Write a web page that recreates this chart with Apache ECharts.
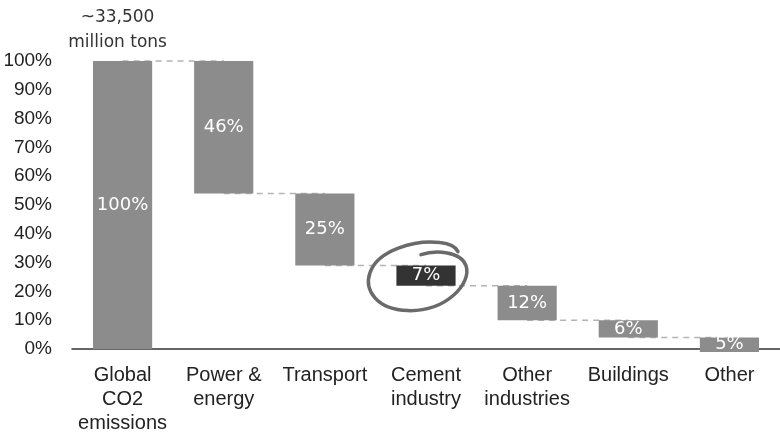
<!DOCTYPE html>
<html>
<head>
<meta charset="utf-8">
<script src="https://cdn.jsdelivr.net/npm/echarts@6/dist/echarts.min.js"></script>
<style>
  html, body { margin: 0; padding: 0; background: #fff; }
  #chart { width: 780px; height: 435px; }
</style>
</head>
<body>
<div id="chart"></div>
<script>
// Share of global CO2 emissions by sector (waterfall)
const categories = ['Global\nCO2\nemissions', 'Power &\nenergy', 'Transport', 'Cement\nindustry', 'Other\nindustries', 'Buildings', 'Other'];
const shares = [100, 46, 25, 7, 12, 6, 5];
const highlighted = 3;               // cement industry
const totalNote = '~33,500\nmillion tons';
const yTicks = [0, 10, 20, 30, 40, 50, 60, 70, 80, 90, 100];

// Build [index, start, end] ranges: first bar is the total, the rest step down from it
const ranges = [];
let level = shares[0];
ranges.push([0, 0, shares[0]]);
for (let i = 1; i < shares.length; i++) {
  ranges.push([i, level - shares[i], level]);
  level -= shares[i];
}
// Dashed connectors sit at the top of the following bar
const connectors = [];
for (let i = 0; i < ranges.length - 1; i++) {
  connectors.push([i, ranges[i + 1][2]]);
}

const chart = echarts.init(document.getElementById('chart'));

function renderBar(params, api) {
  const idx = api.value(0);
  const top = api.coord([idx, api.value(2)]);
  const bottom = api.coord([idx, api.value(1)]);
  const band = api.size([1, 0])[0];
  const w = band * 0.585;
  const x = top[0] - w / 2;
  const y = top[1];
  const h = bottom[1] - top[1];
  const children = [{
    type: 'rect',
    shape: { x: x, y: y, width: w, height: h },
    style: { fill: idx === highlighted ? '#333333' : '#8c8c8c' }
  }, {
    type: 'text',
    z2: 10,
    style: {
      text: shares[idx] + '%',
      x: top[0], y: y + h / 2,
      align: 'center', verticalAlign: 'middle',
      fill: '#ffffff',
      font: '18px "DejaVu Sans"'
    }
  }];
  if (idx === 0) {
    children.push({
      type: 'text',
      style: {
        text: totalNote,
        x: top[0] - 5, y: y - 6,
        align: 'center', verticalAlign: 'bottom',
        fill: '#333333',
        font: '17px "DejaVu Sans"',
        lineHeight: 25
      }
    });
  }
  if (idx === highlighted) {
    // hand-drawn style ring around the highlighted step
    const cx = top[0], cy = y + h / 2;
    const p = (dx, dy) => (cx + dx).toFixed(1) + ',' + (cy + dy).toFixed(1);
    const d = 'M' + p(-5, -21) +
      ' C' + p(10, -26) + ' ' + p(35, -24) + ' ' + p(40, -10) +
      ' C' + p(46, 8) + ' ' + p(20, 36) + ' ' + p(-18, 35) +
      ' C' + p(-50, 34) + ' ' + p(-62, 14) + ' ' + p(-56, -3) +
      ' C' + p(-48, -26) + ' ' + p(-10, -36) + ' ' + p(14, -33) +
      ' C' + p(24, -32) + ' ' + p(30, -28) + ' ' + p(32, -24);
    children.push({
      type: 'path',
      z2: 20,
      shape: { pathData: d },
      style: { fill: null, stroke: '#6a6a6a', lineWidth: 3.5, lineCap: 'round' }
    });
  }
  return { type: 'group', children: children };
}

function renderConnector(params, api) {
  const idx = api.value(0);
  const lvl = api.value(1);
  const a = api.coord([idx, lvl]);
  const b = api.coord([idx + 1, lvl]);
  return {
    type: 'line',
    shape: { x1: a[0], y1: a[1], x2: b[0], y2: b[1] },
    style: { stroke: '#b3b3b3', lineWidth: 1.5, lineDash: [6, 5] }
  };
}

chart.setOption({
  animation: false,
  backgroundColor: '#ffffff',
  grid: { left: 72, right: 0, top: 61, bottom: 83, containLabel: false },
  xAxis: {
    type: 'category',
    data: categories,
    boundaryGap: true,
    axisLine: { lineStyle: { color: '#333333', width: 1.5 } },
    axisTick: { show: false },
    axisLabel: {
      color: '#222222',
      fontFamily: 'Liberation Sans',
      fontSize: 20,
      lineHeight: 24,
      margin: 14,
      interval: 0
    }
  },
  yAxis: {
    type: 'value',
    min: yTicks[0],
    max: yTicks[yTicks.length - 1],
    interval: yTicks[1] - yTicks[0],
    axisLine: { show: false },
    axisTick: { show: false },
    splitLine: { show: false },
    axisLabel: {
      formatter: '{value}%',
      color: '#222222',
      fontFamily: 'Liberation Sans',
      fontSize: 19,
      margin: 20
    }
  },
  series: [{
    type: 'custom',
    z: 1,
    renderItem: renderConnector,
    encode: { x: 0, y: 1 },
    data: connectors,
    silent: true
  }, {
    type: 'custom',
    z: 2,
    renderItem: renderBar,
    encode: { x: 0, y: [1, 2] },
    data: ranges,
    silent: true
  }]
});
</script>
</body>
</html>
